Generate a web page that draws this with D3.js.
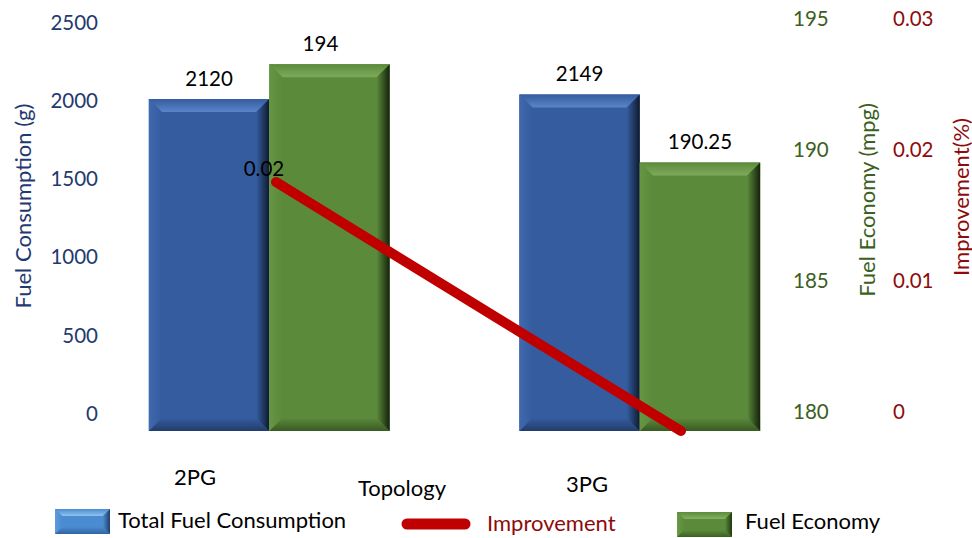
<!DOCTYPE html>
<html>
<head>
<meta charset="utf-8">
<script src="https://cdn.jsdelivr.net/npm/d3@7"></script>
<style>
  body { margin: 0; background: #fff; }
  text { font-family: Lato, "Open Sans", sans-serif; }
</style>
</head>
<body>
<div id="chart"></div>
<script>
// data
var categories = ['2PG', '3PG'];
var fuelConsumption = [2120, 2149];
var fuelEconomy = [194, 190.25];
var improvement = [0.019, 0];
var improvementLabels = ['0.02', ''];
var consumptionTicks = [0, 500, 1000, 1500, 2000, 2500];
var economyTicks = [180, 185, 190, 195];
var improvementTicks = [0, 0.01, 0.02, 0.03];
var legendItems = ['Total Fuel Consumption', 'Improvement', 'Fuel Economy'];

var width = 972, height = 538;
var blueText = '#1f3a70', greenText = '#3b6022', redText = '#8e0b0b';
var numSize = 20.5, wordSize = 22;

var svg = d3.select('#chart').append('svg')
  .attr('width', width)
  .attr('height', height);

var x0 = d3.scaleBand()
  .domain(categories)
  .range([84, 825])
  .paddingInner(0.35)
  .paddingOuter(0.175);

var x1 = d3.scaleBand()
  .domain(['consumption', 'economy'])
  .range([0, x0.bandwidth()]);

// the improvement line sits on its own category axis
var xLine = d3.scalePoint()
  .domain(categories)
  .range([276, 681]);

var yLeft = d3.scaleLinear().domain([0, 2500]).range([431, 39.5]);
var yEco = d3.scaleLinear().domain([180, 195]).range([431, 38]);
var yImp = d3.scaleLinear().domain([0, 0.03]).range([431, 38]);

var blueBevel = {base: '#345c9f', top: '#5a85c8', left: '#4069ae', bottom: '#223c69', right: '#0f1a2d'};
var greenBevel = {base: '#5b8a3b', top: '#7eab5b', left: '#659642', bottom: '#395a23', right: '#14220b'};
var blueSwatch = {base: '#4b8bd0', top: '#8fc2ef', left: '#5d9bdc', bottom: '#2f649e', right: '#1f3f66'};
var greenSwatch = {base: '#5b8b3a', top: '#86b162', left: '#6a9a47', bottom: '#3d5f25', right: '#22370f'};

var defs = svg.append('defs');
var gradCount = 0;
function grad(x2, y2, c0, c1) {
  var id = 'g' + (gradCount++);
  var lg = defs.append('linearGradient').attr('id', id)
    .attr('x1', 0).attr('y1', 0).attr('x2', x2).attr('y2', y2);
  lg.append('stop').attr('offset', '0%').attr('stop-color', c0);
  lg.append('stop').attr('offset', '100%').attr('stop-color', c1);
  return 'url(#' + id + ')';
}

function bevel(g, x, y, w, h, c, b) {
  b = Math.min(b, w / 2, h / 2);
  var x2 = x + w, y2 = y + h;
  g.append('rect').attr('x', x).attr('y', y).attr('width', w).attr('height', h).attr('fill', c.base);
  var poly = function(pts, fill) {
    g.append('polygon').attr('points', pts.map(function(p) { return p.join(','); }).join(' ')).attr('fill', fill);
  };
  poly([[x, y], [x2, y], [x2 - b, y + b], [x + b, y + b]], grad(0, 1, c.base, c.top));
  poly([[x, y2], [x2, y2], [x2 - b, y2 - b], [x + b, y2 - b]], grad(0, 1, c.base, c.bottom));
  poly([[x, y], [x + b, y + b], [x + b, y2 - b], [x, y2]], grad(1, 0, c.left, c.base));
  poly([[x2, y], [x2 - b, y + b], [x2 - b, y2 - b], [x2, y2]], grad(1, 0, c.base, c.right));
}

// bars
categories.forEach(function(cat, i) {
  var gx = x0(cat);
  var g = svg.append('g');
  var bx = gx + x1('consumption'), by = yLeft(fuelConsumption[i]);
  bevel(g, bx, by, x1.bandwidth(), yLeft(0) - by, blueBevel, 13);
  var ex = gx + x1('economy'), ey = yEco(fuelEconomy[i]);
  bevel(g, ex, ey, x1.bandwidth(), yEco(180) - ey, greenBevel, 13);

  svg.append('text').attr('x', bx + x1.bandwidth() / 2).attr('y', by - 13)
    .attr('text-anchor', 'middle').attr('font-size', numSize).attr('fill', '#000')
    .text(fuelConsumption[i]);
  svg.append('text').attr('x', ex + x1.bandwidth() / 2 - (i === 0 ? 9 : 0)).attr('y', ey - 13)
    .attr('text-anchor', 'middle').attr('font-size', numSize).attr('fill', '#000')
    .text(fuelEconomy[i]);
});

// improvement line
var lineData = categories.map(function(c, i) { return {cat: c, v: improvement[i], label: improvementLabels[i]}; });
svg.append('path')
  .datum(lineData)
  .attr('fill', 'none')
  .attr('stroke', '#c00000')
  .attr('stroke-width', 10)
  .attr('stroke-linecap', 'round')
  .attr('d', d3.line().x(function(d) { return xLine(d.cat); }).y(function(d) { return yImp(d.v); }));

svg.selectAll('.implabel').data(lineData).enter().append('text')
  .attr('x', function(d) { return xLine(d.cat) - 12; })
  .attr('y', function(d) { return yImp(d.v) - 6; })
  .attr('text-anchor', 'middle').attr('font-size', numSize).attr('fill', '#000')
  .text(function(d) { return d.label; });

// axes
var axLeft = svg.append('g')
  .attr('transform', 'translate(98,-17)')
  .call(d3.axisLeft(yLeft).tickValues(consumptionTicks).tickSize(0).tickPadding(0).tickFormat(d3.format('d')));
var axEco = svg.append('g')
  .attr('transform', 'translate(793,-19)')
  .call(d3.axisRight(yEco).tickValues(economyTicks).tickSize(0).tickPadding(0).tickFormat(d3.format('d')));
var axImp = svg.append('g')
  .attr('transform', 'translate(893,-19)')
  .call(d3.axisRight(yImp).tickValues(improvementTicks).tickSize(0).tickPadding(0)
    .tickFormat(function(v) { return v === 0 ? '0' : d3.format('.2f')(v); }));

[[axLeft, blueText], [axEco, greenText], [axImp, redText]].forEach(function(a) {
  a[0].select('.domain').remove();
  a[0].selectAll('text').attr('font-size', numSize).attr('fill', a[1])
    .style('font-family', 'Lato, sans-serif');
});

// axis titles
function vTitle(x, y, txt, color) {
  svg.append('text').attr('transform', 'translate(' + x + ',' + y + ') rotate(-90)')
    .attr('text-anchor', 'middle').attr('dominant-baseline', 'central')
    .attr('font-size', wordSize).attr('fill', color).text(txt);
}
vTitle(22, 206, 'Fuel Consumption (g)', blueText);
vTitle(866, 200, 'Fuel Economy (mpg)', greenText);
vTitle(960, 197, 'Improvement(%)', redText);

// category labels
var xLabel = d3.scalePoint().domain(categories).range([195, 587]);
categories.forEach(function(c, i) {
  svg.append('text').attr('x', xLabel(c)).attr('y', 485 + i * 7)
    .attr('text-anchor', 'middle').attr('font-size', wordSize).attr('fill', '#000').text(c);
});
svg.append('text').attr('x', 402).attr('y', 496)
  .attr('text-anchor', 'middle').attr('font-size', wordSize).attr('fill', '#000').text('Topology');

// legend
var lg = svg.append('g');
bevel(lg, 55, 509, 55, 25, blueSwatch, 7);
lg.append('text').attr('x', 118).attr('y', 528).attr('font-size', wordSize).attr('fill', '#000').text(legendItems[0]);
lg.append('line').attr('x1', 407).attr('x2', 465).attr('y1', 524).attr('y2', 524)
  .attr('stroke', '#c00000').attr('stroke-width', 11).attr('stroke-linecap', 'round');
lg.append('text').attr('x', 487).attr('y', 531).attr('font-size', wordSize).attr('fill', redText).text(legendItems[1]);
bevel(lg, 677, 512, 55, 25, greenSwatch, 7);
lg.append('text').attr('x', 745).attr('y', 529).attr('font-size', wordSize).attr('fill', '#000').text(legendItems[2]);
</script>
</body>
</html>
